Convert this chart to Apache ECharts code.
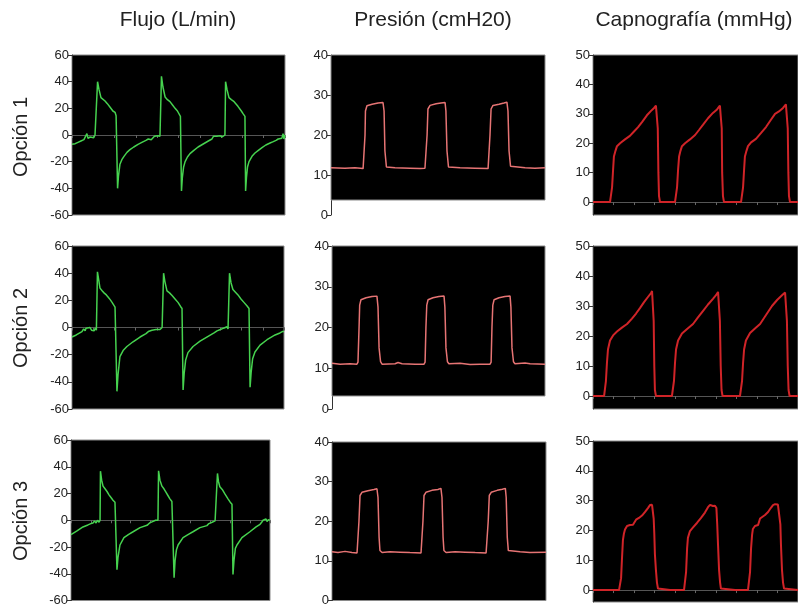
<!DOCTYPE html>
<html>
<head>
<meta charset="utf-8">
<script src="https://cdn.jsdelivr.net/npm/echarts@6/dist/echarts.min.js"></script>
<style>html,body{margin:0;padding:0;background:#fff;}#c{width:798px;height:607px;}</style>
</head>
<body>
<div id="c"></div>
<script>
// Column titles and row labels
const colTitles = ['Flujo (L/min)', 'Presión (cmH20)', 'Capnografía (mmHg)'];
const rowLabels = ['Opción 1', 'Opción 2', 'Opción 3'];

// Tick labels
const flowTicks = [-60, -40, -20, 0, 20, 40, 60];
const presTicks = [0, 10, 20, 30, 40];
const capnoTicks = [0, 10, 20, 30, 40, 50];

// Flow (L/min) vs time (s)
const flow1 = [[0,-7],[0.15,-6.5],[0.28,-5.5],[0.42,-4.5],[0.56,-3.5],[0.65,-2],[0.70,1],[0.75,-2.5],[0.85,-1.5],[0.94,-1],[1.02,-2],[1.08,0],[1.13,-1],[1.17,0],[1.20,40],[1.27,34],[1.36,28],[1.45,27],[1.55,25.5],[1.66,23.5],[1.78,21],[1.92,18],[2.02,17],[2.07,14.5],[2.11,13],[2.14,-40],[2.18,-31],[2.25,-22],[2.34,-18.5],[2.44,-16],[2.58,-13],[2.72,-11],[2.90,-9],[3.10,-7],[3.28,-5.5],[3.47,-4],[3.58,-3],[3.66,-1.5],[3.72,-3.5],[3.80,-2.5],[3.87,-1],[3.94,-1.5],[4.03,-0.5],[4.13,-1],[4.18,0],[4.20,44],[4.27,36],[4.37,28.5],[4.48,26.5],[4.60,25],[4.72,22.5],[4.84,20],[4.95,18],[5.02,17],[5.09,14],[5.14,-42],[5.18,-32],[5.24,-24],[5.31,-20],[5.42,-16.5],[5.54,-14],[5.72,-11.5],[5.92,-9],[6.08,-7.5],[6.24,-6],[6.40,-4.5],[6.57,-3],[6.64,-1],[6.71,-2.5],[6.80,-1],[6.88,-2],[6.95,-0.5],[7.05,-1.5],[7.14,-0.5],[7.18,0],[7.21,40],[7.28,34],[7.37,28],[7.48,26.5],[7.61,25],[7.79,21.5],[7.95,18],[8.03,16],[8.08,15],[8.12,14],[8.15,-42],[8.19,-32],[8.24,-24],[8.31,-20],[8.45,-16],[8.59,-13.5],[8.75,-11.5],[8.92,-9.5],[9.10,-7.5],[9.30,-6],[9.45,-5],[9.58,-4],[9.68,-3],[9.77,-2],[9.85,-2.5],[9.91,1],[9.95,-3],[10,0]];
const flow2 = [[0,-7],[0.2,-5.5],[0.47,-3],[0.55,-1],[0.62,-2.5],[0.66,-0.5],[0.75,-1.5],[0.85,0],[0.92,-2],[0.98,-1],[1.04,-2.5],[1.10,-0.5],[1.15,-2],[1.18,-1],[1.20,41],[1.26,35],[1.32,29],[1.42,27],[1.51,25.5],[1.62,24],[1.70,22.5],[1.80,20.5],[1.89,18.5],[1.97,16.5],[2.03,15],[2.10,14],[2.12,-47],[2.17,-35],[2.26,-21.5],[2.41,-17],[2.59,-14],[2.88,-10.5],[3.21,-7],[3.49,-4.5],[3.6,-3],[3.68,-4],[3.77,-2],[3.86,-3],[3.96,-1.5],[4.05,-0.5],[4.15,-1.5],[4.25,0],[4.29,-0.5],[4.32,40],[4.38,34],[4.48,27],[4.6,25.5],[4.72,23.5],[4.86,21],[5.0,18.5],[5.12,15.5],[5.19,14],[5.24,-46],[5.29,-34],[5.36,-24],[5.47,-18.5],[5.71,-14],[6.04,-10],[6.42,-6.5],[6.7,-4],[6.84,-2.5],[6.92,-3.5],[7.0,-1.5],[7.08,-2.5],[7.15,-0.5],[7.22,-1.5],[7.31,0.5],[7.36,-1],[7.41,0],[7.43,40],[7.5,33],[7.59,28],[7.71,26],[7.83,24],[7.97,21],[8.11,18.5],[8.25,16],[8.35,14],[8.40,-44],[8.45,-33],[8.52,-23],[8.63,-18],[8.87,-13],[9.20,-9],[9.58,-5.5],[9.81,-4],[9.92,-3],[10,-3]];
const flow3 = [[0,-10.7],[0.3,-8],[0.6,-5],[0.85,-3.5],[1.0,-2.5],[1.11,-2],[1.18,-0.5],[1.26,-2],[1.33,0],[1.41,-1.5],[1.46,0],[1.48,36.7],[1.54,30],[1.61,25.5],[1.71,23.5],[1.81,21.5],[1.91,19],[2.01,17],[2.11,15],[2.21,13.5],[2.29,13],[2.31,-37],[2.36,-28],[2.46,-18.5],[2.66,-13],[2.9,-10.5],[3.12,-8.6],[3.47,-5.5],[3.82,-3.8],[3.95,-2],[4.02,-3],[4.1,-1],[4.18,-2],[4.25,0],[4.32,-1],[4.37,0],[4.40,37],[4.47,30],[4.57,25.5],[4.67,23.5],[4.77,21],[4.87,18.5],[4.97,16],[5.07,14],[5.13,13],[5.18,-43],[5.23,-30],[5.30,-22],[5.38,-18.5],[5.63,-13],[5.9,-10.5],[6.13,-8.6],[6.48,-5.5],[6.83,-4],[6.93,-2.5],[7.0,-3.5],[7.09,-1.5],[7.18,-2.5],[7.24,-0.5],[7.29,-1.5],[7.34,0],[7.36,35],[7.41,29],[7.48,25],[7.6,23],[7.74,19.5],[7.89,16],[8.0,13.5],[8.09,12],[8.14,-40.5],[8.19,-30],[8.26,-21],[8.34,-18.5],[8.59,-13],[8.99,-8.6],[9.3,-5],[9.5,-3],[9.58,-1.5],[9.65,0],[9.72,-1],[9.8,1],[9.85,-1],[9.92,0.5],[10,0]];

// Pressure (cmH2O) vs time (s)
const pres1 = [[0,11.8],[0.65,11.7],[1.12,11.8],[1.50,11.6],[1.54,12],[1.59,20],[1.61,26],[1.68,27.3],[1.92,27.7],[2.20,28.0],[2.43,28.1],[2.48,26],[2.52,16],[2.59,12],[2.66,11.6],[2.99,11.8],[3.69,11.7],[4.16,11.6],[4.39,11.7],[4.44,12],[4.49,20],[4.53,26.5],[4.63,27.4],[4.91,27.8],[5.14,28.0],[5.33,28.1],[5.37,26],[5.42,16],[5.49,12],[5.56,11.6],[6.03,11.8],[6.73,11.7],[7.34,11.6],[7.38,12],[7.43,20],[7.48,26.5],[7.57,27.4],[7.85,27.7],[8.08,28],[8.22,28.2],[8.27,26],[8.32,16],[8.39,12.2],[8.46,11.7],[9.07,11.8],[9.53,11.7],[10,11.8]];
const pres2 = [[0,11.2],[0.38,11.0],[0.85,11.1],[1.17,11.0],[1.22,11.5],[1.27,20],[1.30,25.5],[1.36,26.8],[1.60,27.3],[1.88,27.6],[2.11,27.7],[2.16,25],[2.21,15],[2.28,11.6],[2.35,11.0],[2.96,11.1],[3.10,11.4],[3.29,11.1],[3.90,11.0],[4.32,11.0],[4.37,11.5],[4.41,20],[4.45,25.5],[4.51,26.8],[4.74,27.3],[5.02,27.6],[5.26,27.7],[5.30,25],[5.35,15],[5.42,11.6],[5.49,11.1],[6.01,11.2],[6.48,10.9],[6.95,11.0],[7.42,11.0],[7.47,11.5],[7.51,20],[7.55,25.5],[7.61,26.8],[7.84,27.3],[8.12,27.6],[8.36,27.7],[8.40,25],[8.45,15],[8.52,11.6],[8.59,11.1],[9.06,11.3],[9.30,11.1],[10,11.0]];
const pres3 = [[0,12.3],[0.28,12.1],[0.61,12.4],[0.93,12.1],[1.17,12.0],[1.21,12.5],[1.26,20],[1.31,26.5],[1.40,27.3],[1.68,27.7],[1.96,28.0],[2.10,28.2],[2.15,26],[2.20,16],[2.24,12.6],[2.34,12.1],[2.71,12.3],[3.18,12.2],[3.64,12.1],[4.16,12.0],[4.21,12.5],[4.25,20],[4.30,26.5],[4.39,27.3],[4.67,27.8],[4.95,28.0],[5.09,28.3],[5.14,26],[5.19,16],[5.23,12.6],[5.33,12.1],[5.75,12.3],[6.22,12.2],[6.69,12.1],[7.20,12.0],[7.25,12.5],[7.30,20],[7.35,26.5],[7.44,27.3],[7.72,27.8],[7.96,28.1],[8.10,28.3],[8.14,26],[8.19,16],[8.24,12.6],[8.33,12.1],[8.79,12.3],[9.25,12.1],[10,12.2]];

// Capnography (mmHg) vs time (s)
const capno1 = [[0,0],[0.59,0],[0.83,0],[0.88,0.5],[0.93,5],[0.98,11],[1.02,15.5],[1.10,17.5],[1.17,19],[1.32,20],[1.56,21.3],[1.80,22.5],[2.00,24],[2.20,25.5],[2.39,27.2],[2.63,29.5],[2.83,31],[2.98,32],[3.07,32.8],[3.12,32.5],[3.16,25],[3.19,10],[3.22,2],[3.27,0],[3.76,0],[4.00,0],[4.05,0.5],[4.10,5],[4.15,11],[4.20,15.5],[4.27,17.5],[4.34,19],[4.49,20],[4.73,21.3],[4.98,22.8],[5.17,24.5],[5.37,26.3],[5.61,28.5],[5.85,30.3],[6.05,31.5],[6.19,32.8],[6.24,32.4],[6.28,25],[6.30,10],[6.34,2],[6.39,0],[6.93,0],[7.22,0],[7.27,0.5],[7.32,5],[7.37,11],[7.41,15.5],[7.49,17.5],[7.56,19],[7.71,20.3],[7.95,21.5],[8.20,23.5],[8.44,25.5],[8.68,28],[8.88,30],[9.07,30.8],[9.27,32],[9.41,33.2],[9.46,32.7],[9.50,25],[9.53,10],[9.56,2],[9.61,0],[10,0]];
const capno2 = [[0,0],[0.54,0],[0.59,0.5],[0.63,5],[0.68,11],[0.73,15.5],[0.83,18.5],[0.98,20.2],[1.17,21.5],[1.41,22.8],[1.66,24],[1.90,25.8],[2.10,27.5],[2.29,29.3],[2.49,31.3],[2.68,33],[2.83,34.3],[2.88,35],[2.93,34.5],[2.96,25],[2.99,10],[3.02,2],[3.07,0],[3.51,0],[3.85,0],[3.90,0.5],[3.95,5],[4.00,11],[4.05,15.5],[4.15,18.5],[4.34,20.8],[4.59,22.3],[4.88,24],[5.12,26.2],[5.37,28.4],[5.61,30.5],[5.85,32.4],[6.00,33.6],[6.10,34.7],[6.15,34.2],[6.19,25],[6.23,10],[6.27,2],[6.32,0],[6.78,0],[7.17,0],[7.22,0.5],[7.27,5],[7.32,11],[7.37,15.5],[7.46,18.5],[7.66,21],[7.90,22.5],[8.15,24],[8.44,27],[8.73,30],[8.98,32],[9.22,33.6],[9.37,34.5],[9.41,34],[9.46,25],[9.50,10],[9.54,2],[9.59,0],[10,0]];
const capno3 = [[0,0],[0.83,0],[1.27,0],[1.32,0.5],[1.37,4],[1.41,10],[1.46,16.8],[1.51,19],[1.56,20.3],[1.66,21.5],[1.80,21.8],[1.95,21.9],[2.00,22.5],[2.10,23.6],[2.24,24.2],[2.39,25.0],[2.54,26.2],[2.68,27.5],[2.78,28.5],[2.88,28.6],[2.93,28.3],[2.96,24],[2.99,19],[3.02,12],[3.07,6.7],[3.12,2.5],[3.17,0.5],[3.22,0],[3.76,0],[4.44,0],[4.49,0.5],[4.54,6],[4.59,14],[4.63,17.5],[4.73,19.8],[4.88,21],[5.07,22.5],[5.27,24.2],[5.46,26],[5.61,27.8],[5.71,28.6],[5.80,28.7],[5.85,28.2],[5.95,28.3],[6.02,27.5],[6.06,22],[6.10,15],[6.15,6.7],[6.20,2.5],[6.24,0.5],[6.29,0],[6.93,0],[7.56,0],[7.61,0.5],[7.66,6],[7.71,14],[7.76,18.5],[7.80,20.5],[7.90,21.5],[8.05,21.8],[8.10,22.3],[8.15,24],[8.24,24.3],[8.39,25.2],[8.54,26.2],[8.68,27.6],[8.78,28.5],[8.88,28.8],[9.02,28.7],[9.10,28.2],[9.14,22],[9.17,15],[9.22,6.7],[9.27,2.5],[9.32,0.5],[9.37,0],[10,0]];

const FLOW_COLOR = '#46d24f';
const PRES_COLOR = '#e67474';
const CAPNO_COLOR = '#d02428';

// panel layout: [data, kind, left, top, width, height, yMin, blackBottom]
const panels = [
  [flow1, 'flow', 72, 55, 213, 160, -60, null],
  [pres1, 'pres', 331, 55, 214, 160, 0, 3.75],
  [capno1, 'capno', 593, 55, 205, 160, -4.4, null],
  [flow2, 'flow', 72, 246, 212, 163, -60, null],
  [pres2, 'pres', 332, 246, 213, 163, 0, 3.2],
  [capno2, 'capno', 593, 246, 205, 163, -4.33, null],
  [flow3, 'flow', 71, 440, 199, 163, -60, null],
  [pres3, 'pres', 332, 442, 214, 161, 0, null],
  [capno3, 'capno', 593, 441, 205, 161, -4.0, null]
];

const FONT = '"Liberation Sans", Arial, Helvetica, sans-serif';
const grids = [], xAxes = [], yAxes = [], series = [];

panels.forEach((p, i) => {
  const [data, kind, left, top, width, height, yMin, blackBottom] = p;
  const partialBlack = blackBottom !== null;
  grids.push({
    left: left, top: top, width: width, height: height,
    show: !partialBlack,
    backgroundColor: '#000',
    borderColor: '#8a8a8a',
    borderWidth: 1
  });
  xAxes.push({
    type: 'value', gridIndex: i, min: 0, max: 10, interval: 1,
    show: kind !== 'pres',
    axisLine: {show: true, onZero: true, lineStyle: {color: '#555', width: 1}},
    axisTick: {show: true, inside: false, length: 3, lineStyle: {color: '#666'}},
    axisLabel: {show: false},
    splitLine: {show: false}
  });
  const yMax = kind === 'flow' ? 60 : (kind === 'pres' ? 40 : 50);
  const ticks = kind === 'flow' ? flowTicks : (kind === 'pres' ? presTicks : capnoTicks);
  yAxes.push({
    type: 'value', gridIndex: i, min: yMin, max: yMax,
    axisLine: {show: true, onZero: false, lineStyle: {color: '#333', width: 1}},
    axisTick: {show: true, inside: false, length: 4, lineStyle: {color: '#333'}, customValues: ticks},
    axisLabel: {show: true, color: '#222', fontSize: 13, fontFamily: FONT, margin: 3, customValues: ticks},
    splitLine: {show: false}
  });
  const color = kind === 'flow' ? FLOW_COLOR : (kind === 'pres' ? PRES_COLOR : CAPNO_COLOR);
  const s = {
    type: 'line', xAxisIndex: i, yAxisIndex: i, data: data,
    showSymbol: false, symbol: 'none', silent: true,
    lineStyle: {color: color, width: kind === 'capno' ? 2 : 1.5},
    animation: false, z: 3
  };
  if (partialBlack) {
    s.markArea = {
      silent: true,
      itemStyle: {color: '#000', borderColor: '#8a8a8a', borderWidth: 1, opacity: 1},
      data: [[{xAxis: 0, yAxis: blackBottom}, {xAxis: 10, yAxis: yMax}]]
    };
  }
  series.push(s);
});

const graphics = [];
const titleX = [178, 433, 694];
colTitles.forEach((t, i) => {
  graphics.push({type: 'text', x: titleX[i], y: 20,
    style: {text: t, fontSize: 21, fontFamily: FONT, fill: '#222', align: 'center', verticalAlign: 'middle'}});
});
const rowY = [137, 328, 521];
rowLabels.forEach((t, i) => {
  graphics.push({type: 'text', x: 21, y: rowY[i], rotation: Math.PI / 2,
    style: {text: t, fontSize: 20, fontFamily: FONT, fill: '#222', align: 'center', verticalAlign: 'middle'}});
});

const chart = echarts.init(document.getElementById('c'), null, {renderer: 'canvas'});
chart.setOption({
  animation: false,
  backgroundColor: '#fff',
  grid: grids, xAxis: xAxes, yAxis: yAxes, series: series,
  graphic: graphics
});
</script>
</body>
</html>
